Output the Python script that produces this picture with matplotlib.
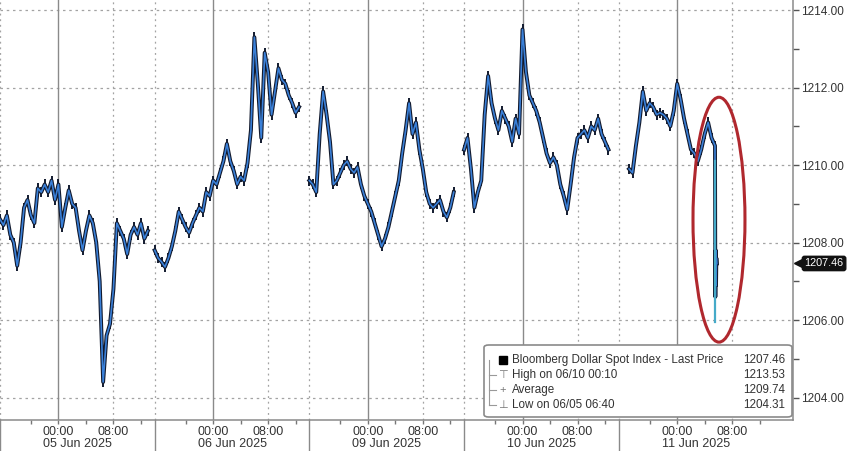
import numpy as np
import matplotlib.pyplot as plt
import matplotlib.transforms as mtransforms
from matplotlib.patches import Ellipse, Rectangle, FancyBboxPatch

plt.rcParams['font.family'] = ['Liberation Sans', 'DejaVu Sans']

# --- data (Bloomberg Dollar Spot Index, 30-min closes) ---
days = ['05 Jun 2025', '06 Jun 2025', '09 Jun 2025', '10 Jun 2025', '11 Jun 2025']
start_hour = [-8.5, -8.5, -8.5, -8.5, -7.0]   # first point, hours from 00:00 of that day
step = 0.5

jun05 = [1208.6, 1208.45, 1208.7, 1208.2, 1208.0, 1207.4, 1208.0, 1208.9, 1209.1, 1208.7,
         1208.5, 1209.4, 1209.3, 1209.5, 1209.3, 1209.6, 1209.1, 1209.5, 1208.4, 1208.9,
         1209.35, 1209.0, 1208.9, 1208.3, 1207.8, 1208.3, 1208.7, 1208.5, 1208.0, 1207.0,
         1204.4, 1205.6, 1205.9, 1206.8, 1208.5, 1208.3, 1208.1, 1207.7, 1208.2, 1208.4,
         1208.2, 1208.5, 1208.1, 1208.3]
jun06 = [1207.8, 1207.6, 1207.5, 1207.37, 1207.6, 1207.9, 1208.3, 1208.8, 1208.6, 1208.4,
         1208.25, 1208.5, 1208.7, 1208.9, 1208.8, 1209.3, 1209.2, 1209.6, 1209.5, 1209.8,
         1210.1, 1210.55, 1210.1, 1209.85, 1209.5, 1209.7, 1209.6, 1210.05, 1210.9, 1213.3,
         1212.1, 1210.7, 1212.9, 1212.4, 1211.3, 1211.9, 1212.5, 1212.2, 1212.1, 1211.8,
         1211.6, 1211.35, 1211.5]
jun09 = [1209.6, 1209.5, 1209.3, 1210.8, 1211.9, 1211.3, 1210.6, 1209.5, 1209.6, 1209.8,
         1210.0, 1210.1, 1209.9, 1209.8, 1209.95, 1209.5, 1209.2, 1209.0, 1208.8, 1208.5,
         1208.2, 1207.9, 1208.1, 1208.4, 1208.8, 1209.2, 1209.6, 1210.3, 1210.9, 1211.6,
         1210.8, 1211.1, 1210.4, 1209.9, 1209.3, 1209.0, 1208.9, 1209.0, 1209.1, 1208.8,
         1208.65, 1208.9, 1209.3]
jun10 = [1210.4, 1210.7, 1209.9, 1208.9, 1209.3, 1209.6, 1211.3, 1212.3, 1211.6, 1211.2,
         1210.9, 1211.4, 1211.2, 1211.0, 1210.6, 1211.2, 1210.8, 1213.5, 1212.4, 1211.8,
         1211.6, 1211.4, 1211.1, 1210.7, 1210.3, 1210.05, 1210.2, 1210.0, 1209.5, 1209.2,
         1208.85, 1209.5, 1210.2, 1210.7, 1210.8, 1210.9, 1210.7, 1211.0, 1210.9, 1211.2,
         1210.8, 1210.6, 1210.4]
jun11 = [1209.9, 1209.8, 1210.5, 1211.1, 1211.9, 1211.4, 1211.6, 1211.5, 1211.3, 1211.35,
         1211.3, 1211.2, 1211.0, 1211.4, 1212.1, 1211.7, 1211.2, 1210.8, 1210.4, 1210.3,
         1210.1, 1210.4, 1210.8, 1211.1, 1210.7, 1210.5]
sessions = [jun05, jun06, jun09, jun10, jun11]

# the sell-off on 11 Jun
drop_hour = [5.5, 5.5]
drop_vals = [1210.1, 1205.95]
tail_hour = [5.55, 5.6, 5.65, 5.7, 5.75]
tail_vals = [1206.6, 1207.8, 1206.9, 1207.6, 1207.46]

last_price = 1207.46
legend_rows = [('Bloomberg Dollar Spot Index - Last Price', '1207.46'),
               ('High on 06/10 00:10', '1213.53'),
               ('Average', '1209.74'),
               ('Low on 06/05 06:40', '1204.31')]
yticks = [1204, 1206, 1208, 1210, 1212, 1214]

SESSION = 22.5   # hours of axis per trading session
PRE = 8.5        # hours from session start to 00:00

def to_x(k, hours):
    return k * SESSION + PRE + np.asarray(hours, dtype=float)

fig = plt.figure(figsize=(8.48, 4.51), dpi=100)
ax = fig.add_axes([0, 31 / 451, 793 / 848, 420 / 451])
ax.set_xlim(0, 793 / 6.875)
ax.set_ylim(1203.42, 1214.26)

grid_c = '#a3a3a3'
for y in yticks:
    ax.axhline(y, color=grid_c, lw=0.9, ls=(0, (2, 3)), zorder=1)

for k in range(5):
    ax.axvline(to_x(k, 0), color='#8a8a8a', lw=1.0, zorder=1)
    ax.axvline(to_x(k, 8), color=grid_c, lw=0.9, ls=(0, (1.5, 3)), zorder=1)
    ax.axvline(k * SESSION, color=grid_c, lw=0.9, ls=(0, (1.5, 3)), zorder=1)
    ax.axvline(k * SESSION, ymin=-0.08, ymax=0, color='#8a8a8a', lw=1.0,
               clip_on=False, zorder=1)

for k, vals in enumerate(sessions):
    hours = start_hour[k] + step * np.arange(len(vals))
    vals = list(vals)
    if k == 4:
        hours = np.concatenate([hours, tail_hour])
        vals = vals + tail_vals
    x = to_x(k, hours)
    ax.plot(x, vals, color='#121a2e', lw=2.8, marker='|', ms=7, mew=1.4, zorder=3)
    ax.plot(x, vals, color='#3a80d8', lw=1.2, zorder=4)

ax.plot(to_x(4, drop_hour), drop_vals, color='#45aac8', lw=1.6, zorder=4)

# red ellipse around the drop
ell = Ellipse((104.58, 1208.59), 7.56, 6.32, fill=False, ec='#b0282e', lw=2.2, zorder=6)
ax.add_patch(ell)

# axes styling
for s in ['left', 'top']:
    ax.spines[s].set_visible(False)
for s in ['right', 'bottom']:
    ax.spines[s].set_color('#8a8a8a')
    ax.spines[s].set_linewidth(1.1)

ax.yaxis.tick_right()
ax.set_yticks(yticks)
ax.set_yticklabels([f'{v:.2f}' for v in yticks])
ax.set_yticks(np.arange(1205, 1214, 2), minor=True)
ax.tick_params(axis='y', which='both', direction='out', length=4, width=1,
               color='#555555', labelsize=8.5, labelcolor='#333333', pad=2)

major_x, major_lbl, minor_x = [], [], []
for k in range(5):
    major_x += [to_x(k, 0), to_x(k, 8)]
    major_lbl += ['00:00', '08:00']
    minor_x += [to_x(k, -4), to_x(k, 4), to_x(k, 12)]
ax.set_xticks(major_x)
ax.set_xticklabels(major_lbl)
ax.set_xticks(minor_x, minor=True)
ax.tick_params(axis='x', which='both', direction='out', length=3, width=1,
               color='#777777', labelsize=9, labelcolor='#333333', pad=1)

trans = mtransforms.blended_transform_factory(ax.transData, ax.transAxes)
for k, d in enumerate(days):
    ax.text(k * SESSION + SESSION / 2, -0.057, d, transform=trans, ha='center',
            va='center', fontsize=9, color='#333333')

# last price tag
ytr = mtransforms.blended_transform_factory(ax.transAxes, ax.transData)
ax.plot([1.007], [last_price], marker='<', ms=6.5, color='#111111', transform=ytr,
        clip_on=False, zorder=8)
ax.text(1.0145, last_price, f'{last_price:.2f}', transform=ytr, ha='left', va='center',
        fontsize=7.8, color='white', clip_on=False, zorder=9,
        bbox=dict(boxstyle='round,pad=0.2,rounding_size=0.2', fc='#111111', ec='#111111'))

# legend box
x0, x1 = 484 / 793, 792 / 793
y0, y1 = 3 / 420, 75 / 420
box = FancyBboxPatch((x0, y0), x1 - x0, y1 - y0, transform=ax.transAxes,
                     boxstyle='round,pad=0,rounding_size=0.006', fc='white',
                     ec='#8a8a8a', lw=1.2, zorder=7)
ax.add_patch(box)
rows_y = [60 / 420, 45 / 420, 30 / 420, 15 / 420]
tx = 512 / 793
vx = 785 / 793
for (lbl, val), ry in zip(legend_rows, rows_y):
    ax.text(tx, ry, lbl, transform=ax.transAxes, ha='left', va='center',
            fontsize=8.4, color='#333333', zorder=8)
    ax.text(vx, ry, val, transform=ax.transAxes, ha='right', va='center',
            fontsize=8.4, color='#333333', zorder=8)
# legend icons
ax.add_patch(Rectangle((499 / 793, rows_y[0] - 4 / 420), 8 / 793, 8 / 420,
                       transform=ax.transAxes, fc='black', ec='black', zorder=8))
ax.plot([489 / 793] * 2, [rows_y[0], rows_y[3]], transform=ax.transAxes,
        color='#999999', lw=0.8, zorder=8)
for ry in rows_y[1:]:
    ax.plot([489 / 793, 496 / 793], [ry, ry], transform=ax.transAxes,
            color='#999999', lw=0.8, zorder=8)
ax.text(503 / 793, rows_y[1], '⊤', transform=ax.transAxes, ha='center', va='center',
        fontsize=8, color='#777777', family=['DejaVu Sans'], zorder=8)
ax.text(503 / 793, rows_y[2], '+', transform=ax.transAxes, ha='center', va='center',
        fontsize=8, color='#777777', zorder=8)
ax.text(503 / 793, rows_y[3], '⊥', transform=ax.transAxes, ha='center', va='center',
        fontsize=8, color='#777777', family=['DejaVu Sans'], zorder=8)

fig.savefig('out.png', dpi=100)
